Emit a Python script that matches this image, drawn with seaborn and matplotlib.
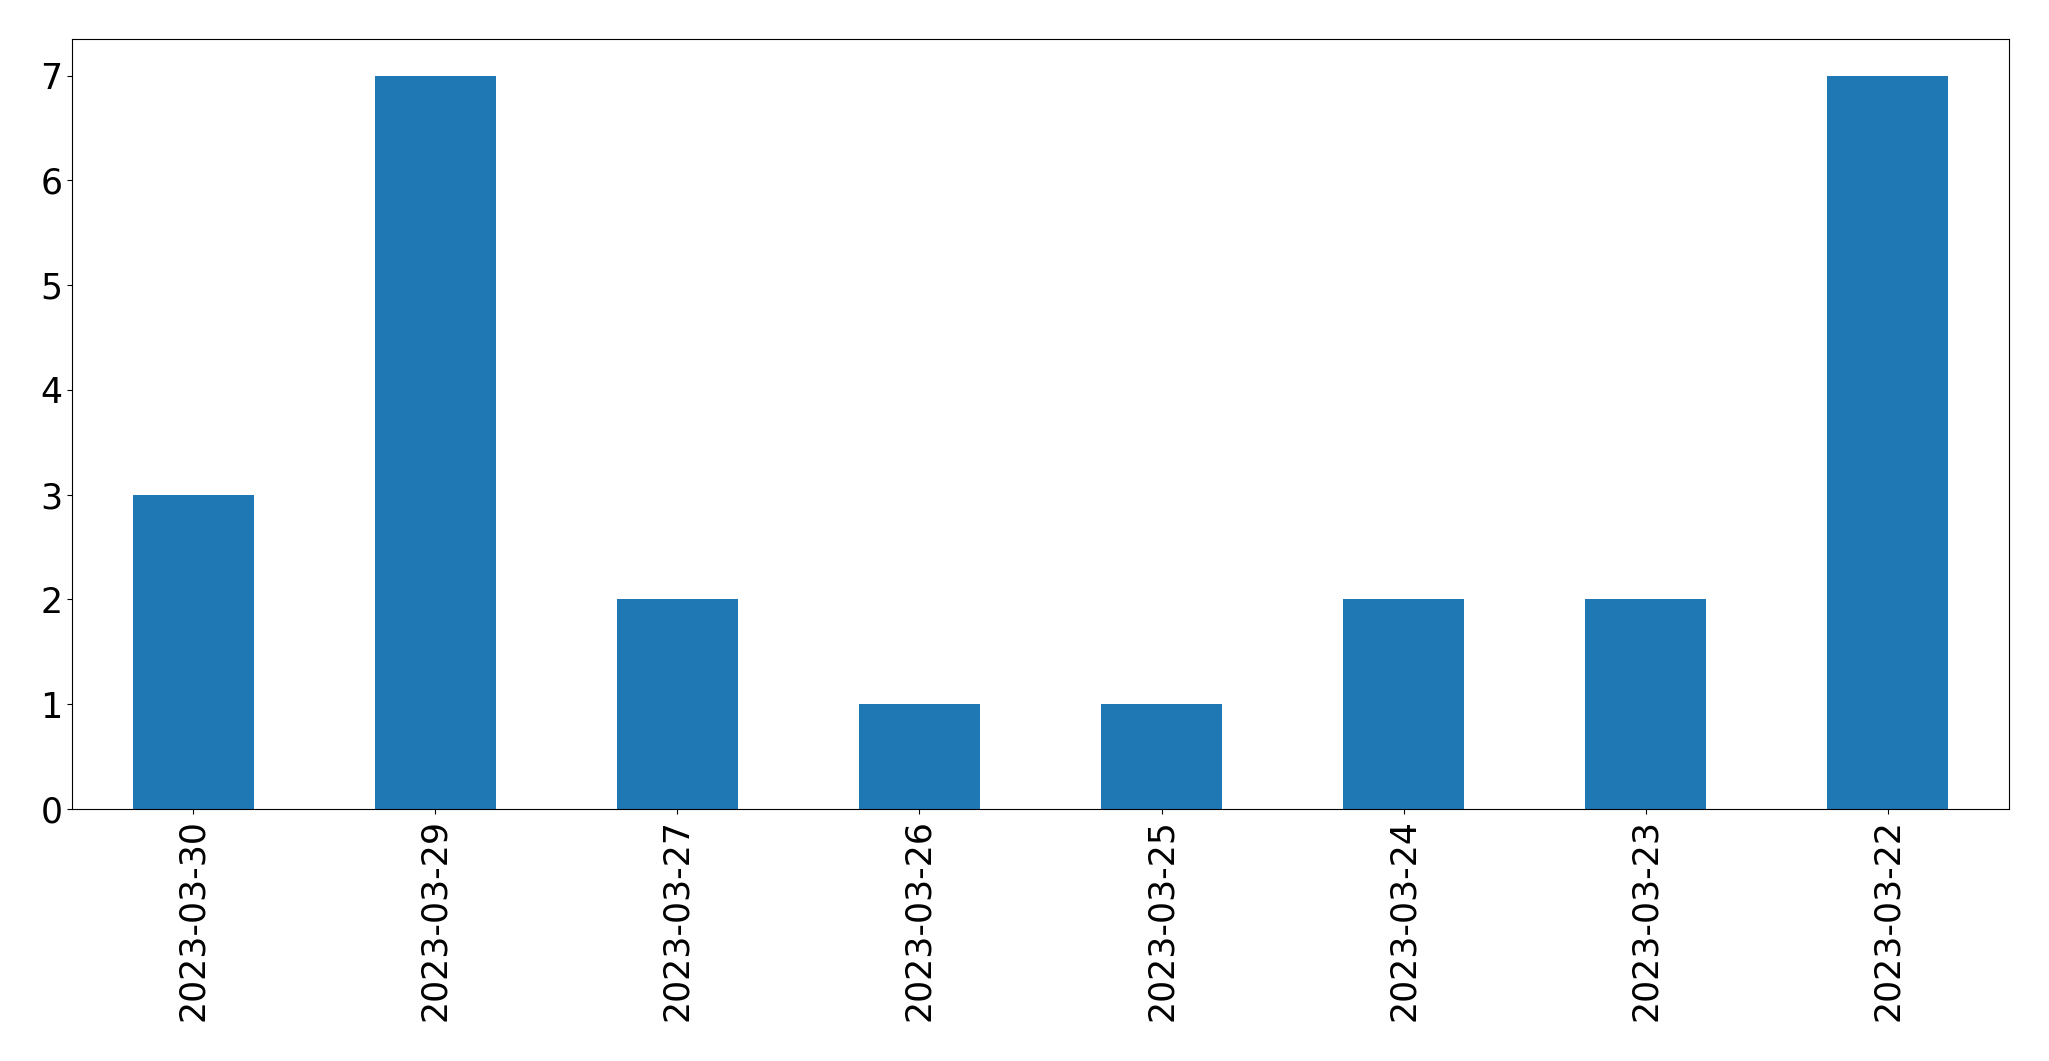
import matplotlib
matplotlib.use("Agg")
import matplotlib.pyplot as plt
import seaborn as sns
import pandas as pd

dates = ["2023-03-30", "2023-03-29", "2023-03-27", "2023-03-26",
         "2023-03-25", "2023-03-24", "2023-03-23", "2023-03-22"]
counts = [3, 7, 2, 1, 1, 2, 2, 7]

df = pd.DataFrame({"date": dates, "count": counts})

fig = plt.figure(figsize=(20.49, 10.61), dpi=100)
ax = fig.add_axes([72 / 2049, 1 - 809 / 1061, (2009 - 72) / 2049, (809 - 39) / 1061])
sns.barplot(data=df, x="date", y="count", order=dates, color="#1f77b4",
            saturation=1, width=0.5, ax=ax, errorbar=None)
ax.set_xlim(-0.5, len(dates) - 0.5)
ax.set_ylim(0, max(counts) * 1.05)
ax.set_xlabel("")
ax.set_ylabel("")
ax.tick_params(axis="both", labelsize=25)
ax.tick_params(axis="x", labelrotation=90)
fig.savefig("out.png", dpi=100)
